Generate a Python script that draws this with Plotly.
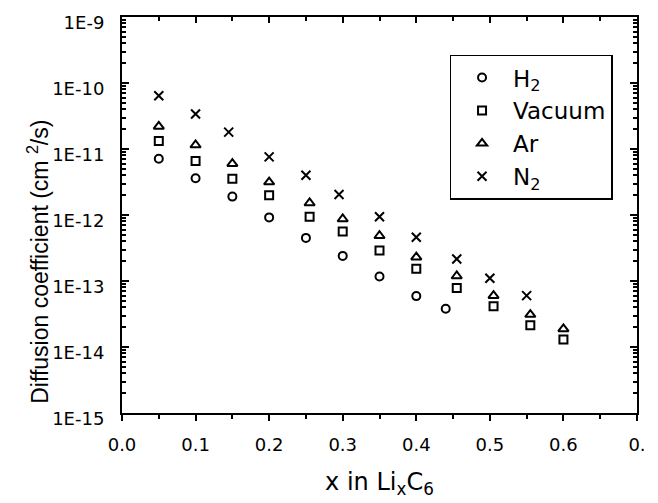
import plotly.graph_objects as go

# ---- data ----
x_h2 = [0.05, 0.10, 0.15, 0.20, 0.25, 0.30, 0.35, 0.40, 0.44]
d_h2 = [7.1e-12, 3.6e-12, 1.9e-12, 9.2e-13, 4.5e-13, 2.4e-13, 1.17e-13, 5.9e-14, 3.8e-14]

x_vac = [0.05, 0.10, 0.15, 0.20, 0.255, 0.30, 0.35, 0.40, 0.455, 0.505, 0.555, 0.60]
d_vac = [1.32e-11, 6.6e-12, 3.55e-12, 2.0e-12, 9.4e-13, 5.6e-13, 2.9e-13, 1.53e-13, 7.8e-14, 4.15e-14, 2.13e-14, 1.3e-14]

x_ar = [0.05, 0.10, 0.15, 0.20, 0.255, 0.30, 0.35, 0.40, 0.455, 0.505, 0.555, 0.60]
d_ar = [2.2e-11, 1.15e-11, 6.0e-12, 3.15e-12, 1.52e-12, 8.7e-13, 4.85e-13, 2.3e-13, 1.19e-13, 6.0e-14, 3.1e-14, 1.88e-14]

x_n2 = [0.05, 0.10, 0.145, 0.20, 0.25, 0.295, 0.35, 0.40, 0.455, 0.50, 0.55]
d_n2 = [6.4e-11, 3.4e-11, 1.8e-11, 7.6e-12, 4.0e-12, 2.05e-12, 9.4e-13, 4.6e-13, 2.16e-13, 1.1e-13, 6.0e-14]

series_names = ["H<sub>2</sub>", "Vacuum", "Ar", "N<sub>2</sub>"]
x_tick_vals = [0.0, 0.1, 0.2, 0.3, 0.4, 0.5, 0.6, 0.7]
x_tick_text = ["0.0", "0.1", "0.2", "0.3", "0.4", "0.5", "0.6", "0."]
y_tick_vals = [1e-15, 1e-14, 1e-13, 1e-12, 1e-11, 1e-10, 1e-9]
y_tick_text = ["1E-15", "1E-14", "1E-13", "1E-12", "1E-11", "1E-10", "1E-9"]
x_title = "x in Li<sub>x</sub>C<sub>6</sub>"
y_title = "Diffusion coefficient (cm <sup>2</sup>/s)"

FONT = "DejaVu Sans, Verdana, sans-serif"
TITLE_FONT = "Liberation Sans, Arial, sans-serif"
symbols = ["circle-open", "square-open", "triangle-up-open", "x-thin-open"]
sizes = [8, 8, 9, 9]
xs = [x_h2, x_vac, x_ar, x_n2]
ds = [d_h2, d_vac, d_ar, d_n2]

fig = go.Figure()
for name, sym, sz, xv, dv in zip(series_names, symbols, sizes, xs, ds):
    fig.add_trace(go.Scatter(
        x=xv, y=dv, mode="markers", name=name,
        marker=dict(symbol=sym, size=sz, color="black",
                    line=dict(color="black", width=2)),
    ))

# invisible trace to carry the top axis
fig.add_trace(go.Scatter(x=[0, 0.7], y=[1e-15, 1e-15], xaxis="x2", mode="markers",
                         marker=dict(opacity=0), showlegend=False, hoverinfo="skip"))

fig.update_layout(
    width=658, height=503,
    margin=dict(l=122, r=16, t=13, b=74),
    paper_bgcolor="white", plot_bgcolor="white",
    font=dict(family=FONT, color="black", size=18),
    showlegend=True,
    legend=dict(
        x=0.636, y=0.905, xanchor="left", yanchor="top",
        bgcolor="white", bordercolor="black", borderwidth=1.5,
        font=dict(family=FONT, size=23, color="black"),
        itemsizing="trace", tracegroupgap=0, itemwidth=52,
    ),
    xaxis=dict(
        range=[0, 0.7], showline=True, linecolor="black", linewidth=2, mirror=True,
        showgrid=False, zeroline=False,
        tickmode="array", tickvals=x_tick_vals, ticktext=x_tick_text,
        ticks="outside", ticklen=6, tickwidth=2, tickcolor="black",
        minor=dict(dtick=0.05, tick0=0, ticks="outside", ticklen=4, tickwidth=2,
                   tickcolor="black", showgrid=False),
        tickfont=dict(size=18), ticklabelstandoff=8,
        title=dict(text=x_title, font=dict(size=24, family=FONT), standoff=20),
    ),
    xaxis2=dict(
        range=[0, 0.7], overlaying="x", side="top", showline=False,
        showgrid=False, zeroline=False, showticklabels=False,
        tickmode="linear", tick0=0, dtick=0.1,
        ticks="inside", ticklen=6, tickwidth=2, tickcolor="black",
        minor=dict(dtick=0.05, tick0=0, ticks="inside", ticklen=4, tickwidth=2,
                   tickcolor="black", showgrid=False),
    ),
    yaxis=dict(
        type="log", range=[-15, -9], showline=True, linecolor="black", linewidth=2,
        mirror="ticks", showgrid=False, zeroline=False,
        tickmode="array", tickvals=y_tick_vals, ticktext=y_tick_text,
        ticks="inside", ticklen=7, tickwidth=2, tickcolor="black",
        minor=dict(dtick="D1", ticks="inside", ticklen=4, tickwidth=1.5,
                   tickcolor="black", showgrid=False),
        tickfont=dict(size=18), ticklabelstandoff=12, ticklabelshift=6,
    ),
    annotations=[dict(
        text=y_title, xref="paper", yref="paper",
        x=-0.163, y=0.382, xanchor="center", yanchor="middle",
        textangle=-90, showarrow=False, font=dict(size=23, family=TITLE_FONT),
    )],
)

fig.write_html("out.html")
